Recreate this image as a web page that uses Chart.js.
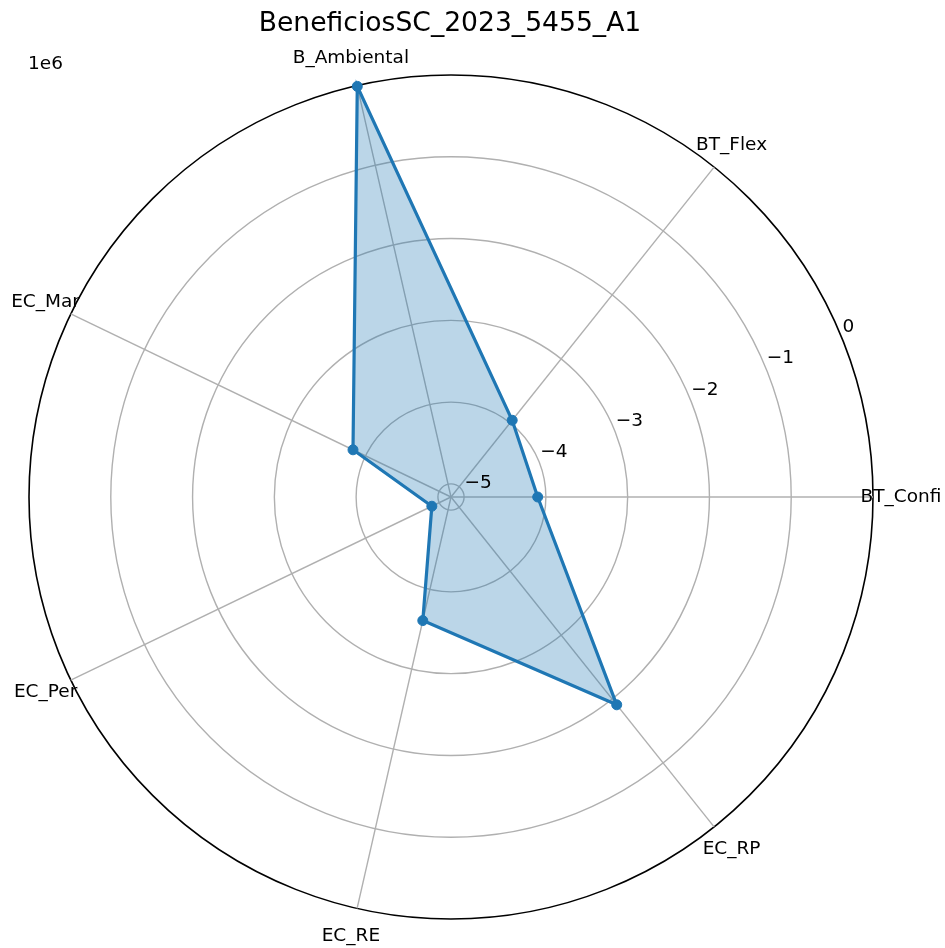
<!DOCTYPE html>
<html><head><meta charset="utf-8">
<script src="https://cdn.jsdelivr.net/npm/chart.js@4.4.0/dist/chart.umd.min.js"></script>
<style>html,body{margin:0;padding:0;background:#fff;}canvas{display:block;}</style>
</head><body>
<canvas id="c" width="945" height="948"></canvas>
<script>
const chartTitle = "BeneficiosSC_2023_5455_A1";
const categories = ["BT_Confi", "EC_RP", "EC_RE", "EC_Per", "EC_Mar", "B_Ambiental", "BT_Flex"];
const values = [-4.10e6, -1.91e6, -3.61e6, -4.90e6, -3.83e6, -0.01e6, -3.96e6];
const tickValues = [-5e6, -4e6, -3e6, -2e6, -1e6, 0];
const tickLabels = ["−5", "−4", "−3", "−2", "−1", "0"];
const offsetLabel = "1e6";
const rMin = -5.16e6, rMax = 0;

const FONT = '"DejaVu Sans", sans-serif';

const textPlugin = {
  id: 'mplText',
  afterDraw(chart) {
    const s = chart.scales.r;
    const ctx = chart.ctx;
    ctx.save();
    ctx.fillStyle = '#000';
    ctx.textBaseline = 'alphabetic';
    ctx.font = '26.6px ' + FONT;
    ctx.textAlign = 'center';
    ctx.fillText(chartTitle, 450, 30.5);
    ctx.font = '18.5px ' + FONT;
    ctx.textAlign = 'left';
    ctx.fillText(offsetLabel, 28, 68.5);
    ctx.textAlign = 'center';
    categories.forEach((c, i) => {
      const p = s.getPointPosition(i, s.drawingArea + 28);
      ctx.fillText(c, p.x, p.y + 5);
    });
    const a = 22.5 * Math.PI / 180;
    ctx.textAlign = 'left';
    tickValues.forEach((v, i) => {
      const d = s.getDistanceFromCenterForValue(v);
      const x = s.xCenter + d * Math.cos(a), y = s.yCenter - d * Math.sin(a);
      ctx.fillText(tickLabels[i], x + 1.5, y - 3.5);
    });
    ctx.restore();
  }
};

new Chart(document.getElementById('c'), {
  type: 'radar',
  data: {
    labels: categories,
    datasets: [{
      data: values,
      borderColor: '#1f77b4',
      backgroundColor: 'rgba(31,119,180,0.3)',
      borderWidth: 3.2,
      pointRadius: 5,
      pointBorderWidth: 1,
      pointBackgroundColor: '#1f77b4',
      pointBorderColor: '#1f77b4',
      fill: 'start',
      tension: 0
    }]
  },
  options: {
    responsive: false,
    animation: false,
    devicePixelRatio: 1,
    layout: { padding: { left: 29, right: 71, top: 75, bottom: 29 } },
    plugins: { legend: { display: false }, tooltip: { enabled: false }, title: { display: false } },
    scales: {
      r: {
        min: rMin, max: rMax,
        startAngle: 90,
        afterBuildTicks: (scale) => { scale.ticks = tickValues.map(v => ({ value: v })); },
        ticks: { display: false, stepSize: 1e6 },
        pointLabels: { display: false },
        grid: {
          circular: true,
          color: (ctx) => (ctx.tick && ctx.tick.value === 0) ? '#000000' : '#b0b0b0',
          lineWidth: (ctx) => (ctx.tick && ctx.tick.value === 0) ? 1.6 : 1.4
        },
        angleLines: { color: '#b0b0b0', lineWidth: 1.4 }
      }
    }
  },
  plugins: [textPlugin]
});
</script>
</body></html>
